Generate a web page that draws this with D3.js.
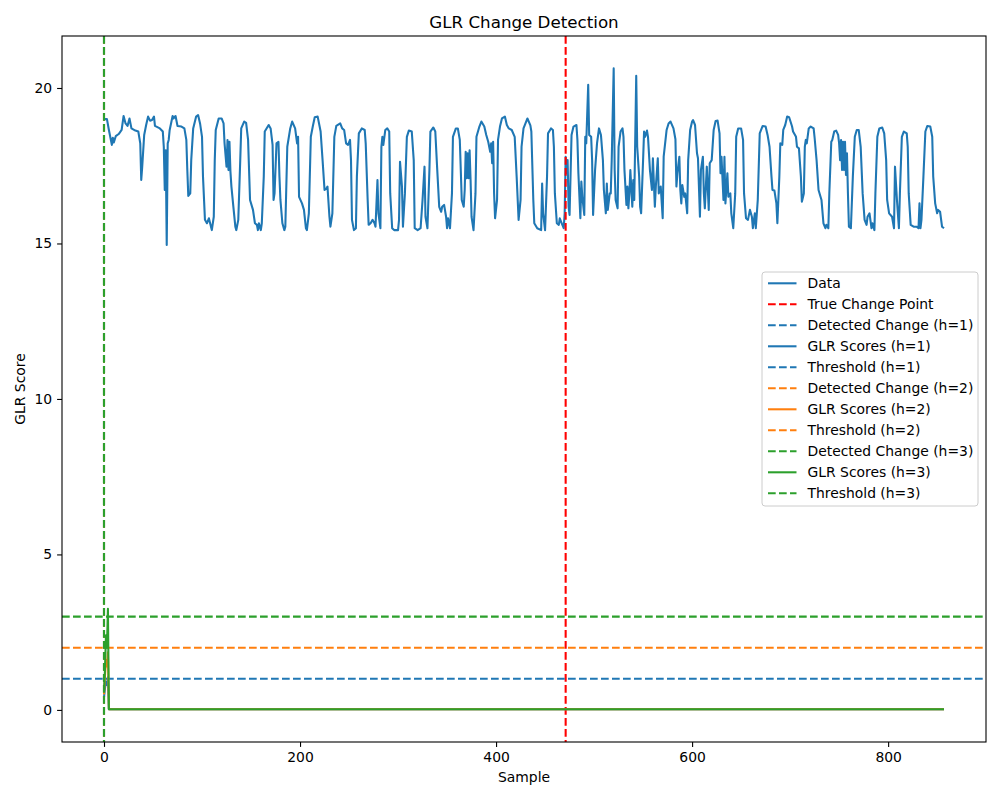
<!DOCTYPE html>
<html>
<head>
<meta charset="utf-8">
<script src="https://cdn.jsdelivr.net/npm/d3@7"></script>
<style>
  body { margin: 0; background: #fff; }
  text { font-family: "DejaVu Sans", sans-serif; fill: #000; }
</style>
</head>
<body>
<div id="graph"></div>
<script>
// data series as [sample, value]
var dataPoints = [
  [0,19.0],[3,19.0],[5,18.65],[8,18.17],[9,18.4],[10,18.25],[12,18.45],[15,18.52],[18,18.65],[20,19.1],[22,18.86],[24,18.78],[26,19.02],[28,18.7],[32,18.63],[35,18.6],[37,18.22],[38,17.04],[39,17.47],[41,18.49],[43,18.81],[45,19.08],[47,18.95],[49,18.97],[51,19.08],[52,18.78],[57,18.7],[60,18.6],[61,18.11],[62,16.72],[63,18.0],[64,14.95],[65,18.22],[66,18.33],[67,18.65],[70,19.1],[71,19.02],[73,19.1],[75,18.78],[79,18.76],[82,18.7],[84,18.33],[85,17.36],[86,16.53],[88,16.61],[89,17.68],[91,18.7],[94,19.08],[96,19.13],[98,18.86],[100,18.43],[101,17.15],[103,15.76],[105,15.65],[107,15.81],[110,15.43],[112,15.86],[113,17.68],[114,18.65],[117,19.02],[120,19.02],[122,18.86],[123,18.22],[125,17.47],[126,18.33],[127,17.36],[128,18.27],[129,17.31],[130,16.83],[132,16.18],[134,15.54],[135,15.43],[137,15.76],[139,17.68],[140,18.7],[143,18.92],
  [145,18.88],[147,18.33],[149,16.4],[152,16.08],[154,15.65],[156,15.6],[157,15.43],[158,15.65],[160,15.43],[161,15.65],[163,17.15],[164,18.6],[168,18.81],[170,18.7],[172,18.17],[173,16.4],[174,16.61],[176,18.22],[178,18.27],[179,17.15],[180,16.4],[182,15.65],[184,15.43],[185,15.54],[187,18.11],[190,18.7],[192,18.92],[195,18.7],[197,18.22],[198,18.43],[199,16.5],[202,16.29],[204,16.08],[206,15.49],[207,15.43],[209,15.97],[211,18.43],[213,18.76],[215,19.06],[218,19.08],[220,18.76],[221,18.6],[223,17.68],[225,16.72],[227,16.77],[228,16.83],[230,15.86],[231,15.54],[233,15.97],[235,18.43],[237,18.78],[241,18.86],[243,18.7],[245,18.65],[247,18.22],[249,18.17],[251,18.33],[252,17.68],[253,15.76],[255,15.43],[257,15.49],[258,17.15],[260,18.54],[263,18.7],[266,18.65],[267,18.22],[269,16.4],[270,15.6],[272,15.65],[274,15.76],[276,15.65],[277,15.54],[279,17.04],[280,15.97],[282,15.49],[283,18.11],[284,18.43],[285,18.17],[287,18.65],[289,18.7],
  [291,18.6],[292,16.61],[294,15.49],[296,15.43],[300,15.43],[301,15.76],[302,17.63],[304,16.83],[305,15.54],[307,16.61],[309,18.43],[311,18.63],[314,18.6],[316,17.68],[317,15.49],[320,15.43],[323,15.49],[325,16.4],[327,17.47],[328,15.86],[330,15.49],[332,17.36],[333,18.6],[336,18.73],[338,18.6],[340,17.36],[342,16.18],[344,16.02],[345,16.18],[347,16.24],[349,15.86],[350,15.49],[351,15.81],[353,15.49],[355,16.61],[356,18.43],[359,18.7],[361,18.7],[363,18.33],[365,16.4],[367,16.18],[368,16.72],[369,17.95],[370,17.1],[371,17.9],[372,17.1],[373,18.0],[374,17.04],[375,15.86],[377,15.43],[379,16.61],[380,18.43],[383,18.76],[385,18.92],[388,18.76],[390,18.49],[392,18.27],[394,17.95],[395,18.22],[396,17.58],[397,18.27],[398,16.61],[399,15.81],[401,16.4],[402,18.33],[404,18.76],[406,19.02],[409,19.08],[411,18.81],[413,18.7],[416,18.65],[419,18.43],[421,17.15],[423,15.76],[425,16.4],[426,18.11],[428,18.7],[430,18.86],[432,19.02],[435,18.8],[436,18.6],[438,16.4],
  [439,15.65],[442,15.49],[446,15.43],[447,16.93],[448,15.97],[450,15.43],[452,17.15],[453,18.54],[456,18.7],[458,18.65],[459,18.11],[460,16.61],[462,15.65],[464,15.6],[465,15.81],[467,15.65],[469,15.49],[470,15.97],[471,17.79],[472,17.26],[473,17.68],[474,16.18],[475,15.92],[477,18.49],[479,18.76],[482,18.81],[483,18.33],[484,17.26],[486,15.81],[487,16.99],[488,16.5],[490,15.92],[491,18.43],[492,18.22],[494,20.1],[495,18.49],[497,18.43],[498,17.68],[499,15.92],[501,17.36],[503,18.22],[505,18.7],[507,18.49],[509,17.68],[510,16.72],[512,15.97],[513,16.93],[514,16.08],[516,16.61],[517,16.61],[518,17.68],[520,20.63],[521,17.36],[522,16.4],[524,16.13],[525,18.11],[527,18.6],[529,18.7],[530,18.43],[531,17.36],[533,16.24],[534,16.83],[535,16.13],[536,16.61],[537,17.36],[539,16.18],[540,17.04],[541,16.4],[543,20.39],[544,18.11],[546,17.15],[547,16.18],[548,15.97],[550,17.68],[551,18.6],[552,18.43],[554,18.63],[555,18.43],[557,17.36],[559,16.72],[560,17.74],[562,16.18],[563,16.83],[565,17.74],[566,16.61],[568,16.83],[570,15.81],[571,17.79],[574,18.65],[576,18.86],[578,18.92],[581,18.7],[583,18.35],
  [584,16.83],[585,17.26],[587,17.79],[588,16.72],[589,16.29],[590,16.88],[592,16.5],[593,16.61],[595,15.97],[596,17.68],[598,18.65],[600,18.92],[601,18.97],[603,18.81],[605,17.9],[606,17.74],[608,15.86],[609,17.36],[611,17.79],[612,16.61],[613,16.13],[615,17.47],[617,16.08],[618,17.58],[620,17.68],[622,18.65],[624,18.94],[626,18.95],[628,18.54],[629,17.26],[630,17.79],[632,16.4],[633,17.79],[634,16.29],[636,17.26],[637,16.5],[639,16.61],[640,15.97],[642,15.49],[644,16.61],[645,18.43],[647,18.7],[650,18.7],[652,18.33],[653,16.61],[655,15.81],[657,15.76],[659,16.08],[661,15.86],[662,15.49],[664,15.97],[665,15.49],[667,16.4],[669,18.54],[672,18.78],[675,18.76],[677,18.49],[679,18.11],[681,17.15],[682,16.72],[684,16.7],[686,16.29],[687,15.65],[689,17.15],[690,18.22],[692,18.17],[693,18.65],[695,18.81],[697,19.08],[699,19.06],[702,18.76],[703,18.6],[706,18.43],[707,18.11],[709,18.06],[711,17.15],[712,16.34],[714,16.61],[715,18.11],[716,18.33],[717,18.22],[719,18.7],[721,18.76],[724,18.7],[725,18.4],
  [727,17.68],[729,16.72],[732,16.4],[734,15.65],[736,15.49],[737,15.6],[739,15.49],[740,16.61],[742,18.27],[743,18.33],[745,18.6],[747,18.63],[749,18.49],[750,18.22],[751,17.68],[752,18.33],[753,17.36],[754,18.27],[755,17.36],[756,18.27],[757,17.2],[758,17.9],[759,16.61],[760,15.54],[762,15.49],[764,17.15],[766,18.43],[768,18.65],[770,18.65],[772,18.11],[774,16.61],[776,15.76],[778,15.6],[779,15.86],[781,15.97],[783,15.49],[784,15.65],[786,15.43],[787,16.61],[789,18.43],[791,18.7],[794,18.73],[796,18.54],[798,17.68],[799,16.4],[801,15.97],[804,15.86],[806,15.49],[807,17.47],[809,16.4],[811,15.49],[812,16.61],[814,18.43],[816,18.6],[819,18.54],[820,18.11],[821,16.61],[823,15.6],[826,15.54],[829,15.54],[831,15.49],[832,16.29],[833,15.49],[834,15.76],[836,17.15],[838,18.6],[840,18.78],[843,18.76],[845,18.43],[846,17.15],[848,16.29],[850,15.97],[851,16.08],[853,16.02],[855,15.54],[857,15.49]
];

// GLR score curves (non-zero only at the start, flat at 0 after)
var glrH1 = [[0,0.4],[1,0.7],[2,0.9],[3,0.8],[4,1.05],[5,0.02],[857,0.02]];
var glrH2 = [[0,0.5],[1,1.1],[2,1.6],[3,1.4],[4,1.85],[5,0.02],[857,0.02]];
var glrH3 = [[0,0.6],[1,1.3],[2,2.4],[3,2.0],[4,3.25],[5,0.02],[857,0.02]];

var thresholds = [1, 2, 3];
var detectedAt = [0, 0, 0];
var trueChange = 471;

var xTicks = [0, 200, 400, 600, 800];
var yTicks = [0, 5, 10, 15, 20];

var legendLabels = ["Data", "True Change Point", "Detected Change (h=1)", "GLR Scores (h=1)", "Threshold (h=1)",
  "Detected Change (h=2)", "GLR Scores (h=2)", "Threshold (h=2)",
  "Detected Change (h=3)", "GLR Scores (h=3)", "Threshold (h=3)"];

var blue = "#1f77b4", orange = "#ff7f0e", green = "#2ca02c", red = "#ff0000";
var hColors = [blue, orange, green];
var glrSets = [glrH1, glrH2, glrH3];
var legendColors = [blue, red, blue, blue, blue, orange, orange, orange, green, green, green];
var legendDashed = [false, true, true, false, true, true, false, true, true, false, true];

function draw() {
  var width = 1000, height = 800;
  var pl = 62, pr = 986, pt = 36, pb = 742;
  var dash = "7.7,3.3";
  var lw = 2.08;

  var x = d3.scaleLinear().domain([-42.85, 899.85]).range([pl, pr]);
  var y = d3.scaleLinear().domain([-1.032, 21.672]).range([pb, pt]);

  var svg = d3.select("#graph").html("").append("svg")
    .attr("width", width)
    .attr("height", height);

  svg.append("defs").append("clipPath").attr("id", "clip")
    .append("rect").attr("x", pl).attr("y", pt).attr("width", pr - pl).attr("height", pb - pt);

  var plot = svg.append("g").attr("clip-path", "url(#clip)");

  var line = d3.line().x(function(d) { return x(d[0]); }).y(function(d) { return y(d[1]); });

  plot.append("path")
    .datum(dataPoints)
    .attr("d", line)
    .attr("fill", "none")
    .attr("stroke", blue)
    .attr("stroke-width", lw)
    .attr("stroke-linejoin", "round");

  plot.append("line")
    .attr("x1", x(trueChange)).attr("x2", x(trueChange))
    .attr("y1", pt).attr("y2", pb)
    .attr("stroke", red).attr("stroke-width", lw).attr("stroke-dasharray", dash);

  for (var i = 0; i < 3; i++) {
    plot.append("line")
      .attr("x1", x(detectedAt[i])).attr("x2", x(detectedAt[i]))
      .attr("y1", pt).attr("y2", pb)
      .attr("stroke", hColors[i]).attr("stroke-width", lw).attr("stroke-dasharray", dash);

    plot.append("path")
      .datum(glrSets[i])
      .attr("d", line)
      .attr("fill", "none")
      .attr("stroke", hColors[i])
      .attr("stroke-width", lw)
      .attr("stroke-linejoin", "round");

    plot.append("line")
      .attr("x1", pl).attr("x2", pr)
      .attr("y1", y(thresholds[i])).attr("y2", y(thresholds[i]))
      .attr("stroke", hColors[i]).attr("stroke-width", lw).attr("stroke-dasharray", dash);
  }

  // axes
  var xAxis = svg.append("g")
    .attr("transform", "translate(0," + pb + ")")
    .call(d3.axisBottom(x).tickValues(xTicks).tickSize(4.9).tickPadding(4.9));
  var yAxis = svg.append("g")
    .attr("transform", "translate(" + pl + ",0)")
    .call(d3.axisLeft(y).tickValues(yTicks).tickSize(4.9).tickPadding(4.9));

  [xAxis, yAxis].forEach(function(a) {
    a.select(".domain").remove();
    a.selectAll("line").attr("stroke", "#000").attr("stroke-width", 1.1);
    a.selectAll("text").attr("font-size", "13.9px").attr("font-family", "DejaVu Sans").attr("fill", "#000");
  });

  svg.append("rect")
    .attr("x", pl).attr("y", pt).attr("width", pr - pl).attr("height", pb - pt)
    .attr("fill", "none").attr("stroke", "#000").attr("stroke-width", 1.1);

  svg.append("text")
    .attr("x", (pl + pr) / 2).attr("y", 28)
    .attr("text-anchor", "middle")
    .attr("font-size", "16.7px")
    .text("GLR Change Detection");

  svg.append("text")
    .attr("x", (pl + pr) / 2).attr("y", 782)
    .attr("text-anchor", "middle")
    .attr("font-size", "13.9px")
    .text("Sample");

  svg.append("text")
    .attr("transform", "translate(25," + ((pt + pb) / 2) + ") rotate(-90)")
    .attr("text-anchor", "middle")
    .attr("font-size", "13.9px")
    .text("GLR Score");

  // legend
  var lg = svg.append("g").attr("transform", "translate(762,272)");
  lg.append("rect")
    .attr("x", 0).attr("y", 0).attr("width", 216).attr("height", 234)
    .attr("rx", 3)
    .attr("fill", "#fff").attr("fill-opacity", 0.8)
    .attr("stroke", "#cccccc").attr("stroke-width", 1);

  var rows = lg.selectAll(".row")
    .data(legendLabels)
    .enter()
    .append("g")
    .attr("class", "row")
    .attr("transform", function(d, i) { return "translate(0," + (11.3 + i * 21) + ")"; });

  rows.append("line")
    .attr("x1", 6).attr("x2", 34.5)
    .attr("y1", 0).attr("y2", 0)
    .attr("stroke", function(d, i) { return legendColors[i]; })
    .attr("stroke-width", lw)
    .attr("stroke-dasharray", function(d, i) { return legendDashed[i] ? dash : null; });

  rows.append("text")
    .attr("x", 45.5).attr("y", 0)
    .attr("dy", "0.36em")
    .attr("font-size", "13.9px")
    .text(function(d) { return d; });
}

draw();
</script>
</body>
</html>
